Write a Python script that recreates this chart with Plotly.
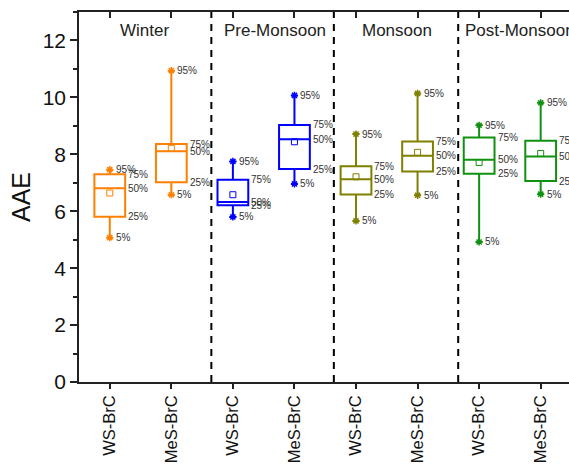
import plotly.graph_objects as go

# ---- data ----
categories = ["WS-BrC", "MeS-BrC", "WS-BrC", "MeS-BrC", "WS-BrC", "MeS-BrC", "WS-BrC", "MeS-BrC"]
positions = [1, 2, 3, 4, 5, 6, 7, 8]
seasons = ["Winter", "Pre-Monsoon", "Monsoon", "Post-Monsoon"]
separators = [2.65, 4.64, 6.66]
p5 = [5.07, 6.58, 5.80, 6.96, 5.66, 6.56, 4.92, 6.60]
p25 = [5.81, 7.02, 6.21, 7.48, 6.59, 7.40, 7.32, 7.06]
p50 = [6.81, 8.11, 6.32, 8.53, 7.12, 7.95, 7.81, 7.92]
p75 = [7.30, 8.36, 7.11, 9.03, 7.58, 8.45, 8.59, 8.48]
p95 = [7.46, 10.94, 7.75, 10.07, 8.71, 10.14, 9.02, 9.81]
means = [6.64, 8.21, 6.58, 8.44, 7.21, 8.07, 7.71, 8.03]
season_colors = ["#FF8000", "#0000FF", "#808000", "#119111"]

colors = [season_colors[i // 2] for i in range(8)]
BOXW = 0.5

fig = go.Figure()
for i in range(8):
    c = colors[i]
    fig.add_trace(go.Box(
        x=[positions[i]], q1=[p25[i]], median=[p50[i]], q3=[p75[i]],
        lowerfence=[p5[i]], upperfence=[p95[i]],
        width=BOXW, whiskerwidth=0.22, boxpoints=False,
        line=dict(color=c, width=2), fillcolor="rgba(0,0,0,0)",
        showlegend=False, hoverinfo="skip"))
    fig.add_trace(go.Scatter(
        x=[positions[i]], y=[means[i]], mode="markers",
        marker=dict(symbol="square-open", size=6, color=c, line=dict(width=1)),
        showlegend=False, hoverinfo="skip"))
    fig.add_trace(go.Scatter(
        x=[positions[i], positions[i]], y=[p5[i], p95[i]], mode="markers",
        marker=dict(symbol="asterisk-open", size=6, color=c, line=dict(width=1.5, color=c)),
        showlegend=False, hoverinfo="skip"))

# percentile labels
annots = []
lab_font = dict(family="Liberation Sans, Arial", size=10, color="#333333")
for i in range(8):
    for val, lab, off in [(p95[i], "95%", 0), (p5[i], "5%", 0),
                          (p75[i], "75%", BOXW / 2), (p50[i], "50%", BOXW / 2), (p25[i], "25%", BOXW / 2)]:
        annots.append(dict(x=positions[i] + off, y=val, text=lab, showarrow=False,
                           xanchor="left", yanchor="middle", xshift=4 if off == 0 else 1,
                           font=lab_font))

# season labels
season_x = [1.57, 3.68, 5.67, 6.74]
season_anchor = ["center", "center", "center", "left"]
for s, sx, an in zip(seasons, season_x, season_anchor):
    annots.append(dict(x=sx, y=12.35, text=s, showarrow=False, xanchor=an, yanchor="middle",
                       font=dict(family="Liberation Sans, Arial", size=17, color="#222222")))

# separators
shapes = []
for sep in separators:
    shapes.append(dict(type="line", xref="x", yref="y domain", x0=sep, x1=sep, y0=0, y1=1,
                       line=dict(color="black", width=2, dash="7px,6px")))

# invisible trace for top axis
fig.add_trace(go.Scatter(x=[1], y=[0], xaxis="x2", mode="markers",
                         marker=dict(opacity=0), showlegend=False, hoverinfo="skip"))

fig.update_layout(
    width=569, height=465,
    margin=dict(l=79, r=0, t=12, b=83),
    plot_bgcolor="white", paper_bgcolor="white",
    font=dict(family="Liberation Sans, Arial", color="#111111"),
    annotations=annots, shapes=shapes,
    xaxis=dict(range=[0.5, 8.46], tickmode="array", tickvals=positions, ticktext=categories,
               tickangle=-90, ticks="outside", ticklen=5, tickwidth=1.5, tickcolor="#222222",
               showline=True, linecolor="#222222", linewidth=1.5, mirror=True,
               showgrid=False, zeroline=False, tickfont=dict(size=16.5)),
    xaxis2=dict(overlaying="x", side="top", matches="x", tickmode="array", tickvals=positions,
                ticks="inside", ticklen=6, tickwidth=1.5, tickcolor="#222222",
                showticklabels=False, showline=False, showgrid=False, zeroline=False),
    yaxis=dict(range=[0, 13], dtick=2, tick0=0, ticks="outside", ticklen=7, tickwidth=1.5,
               tickcolor="#222222", showline=True, linecolor="#222222", linewidth=1.5,
               showgrid=False, zeroline=False, tickfont=dict(size=21),
               minor=dict(dtick=1, ticks="outside", ticklen=4, tickwidth=1.5, tickcolor="#222222"),
               title=dict(text="AAE", font=dict(size=25), standoff=5)),
)

fig.write_html("out.html")
